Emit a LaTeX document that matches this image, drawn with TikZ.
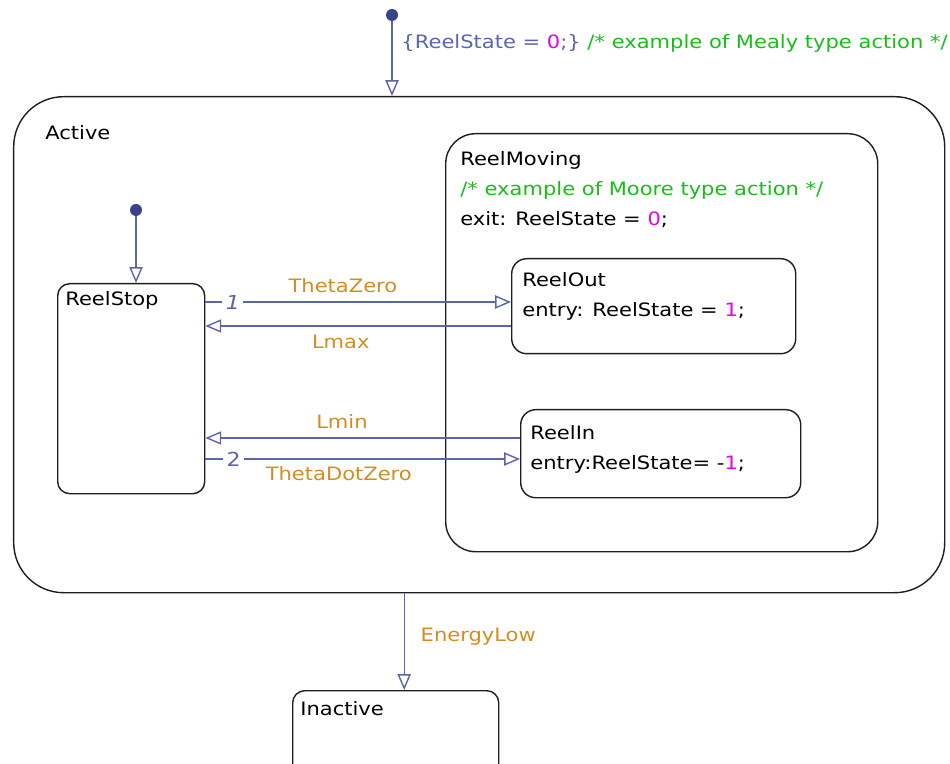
\documentclass[tikz,border=0pt]{standalone}
\usepackage{fontspec}
\setmainfont[FakeStretch=1.14]{DejaVu Sans}
\usetikzlibrary{positioning,calc,arrows.meta}
\definecolor{trblue}{RGB}{92,100,176}
\definecolor{dotblue}{RGB}{58,66,140}
\definecolor{lblorange}{RGB}{212,140,32}
\definecolor{cmtgreen}{RGB}{24,190,24}
\definecolor{valmag}{RGB}{230,0,230}
\definecolor{boxgray}{RGB}{30,30,30}

\begin{document}
\begin{tikzpicture}[
  state/.style={draw=boxgray, line width=0.8pt, anchor=north west, inner sep=0pt},
  txt/.style={anchor=north west, inner sep=0pt, align=left, font=\fontsize{10.5}{17}\selectfont},
  tr/.style={draw=trblue, line width=0.8pt, -{Triangle[open,length=9pt,width=7.5pt]}},
  lbl/.style={text=lblorange, inner sep=1pt, font=\fontsize{10.5}{17}\selectfont},
  num/.style={text=trblue, fill=white, inner sep=2pt, font=\fontsize{11}{13}\selectfont},
  init/.style={circle, fill=dotblue, inner sep=0pt, minimum size=0.24cm}]
\useasboundingbox (0,0) rectangle (19,-15.28);
\clip (0,0) rectangle (19,-15.28);

% states
\node[state, rounded corners=1cm, minimum width=18.62cm, minimum height=9.92cm] (act) at (0.26,-1.92) {};
\node[state, rounded corners=0.6cm, minimum width=8.64cm, minimum height=8.36cm] (mov) at (8.9,-2.66) {};
\node[state, rounded corners=0.24cm, minimum width=2.94cm, minimum height=4.2cm] (stop) at (1.14,-5.66) {};
\node[state, rounded corners=0.3cm, minimum width=5.68cm, minimum height=1.9cm] (out) at (10.22,-5.16) {};
\node[state, rounded corners=0.3cm, minimum width=5.6cm, minimum height=1.76cm] (in) at (10.4,-8.18) {};
\node[state, rounded corners=0.24cm, minimum width=4.12cm, minimum height=2.4cm] (inact) at (5.84,-13.8) {};

% state texts
\node[txt] (acttxt) at ($(act.north west)+(0.64,-0.58)$) {Active};
\node[txt] (movtxt) at ($(mov.north west)+(0.3,-0.36)$) {ReelMoving\\
  \textcolor{cmtgreen}{/* example of Moore type action */}\\
  exit: ReelState = \textcolor{valmag}{0};};
\node[txt] (stoptxt) at ($(stop.north west)+(0.16,-0.16)$) {ReelStop};
\node[txt] (outtxt) at ($(out.north west)+(0.22,-0.28)$) {ReelOut\\entry: ReelState = \textcolor{valmag}{1};};
\node[txt] (intxt) at ($(in.north west)+(0.2,-0.32)$) {ReelIn\\entry:ReelState= -\textcolor{valmag}{1};};
\node[txt] (inacttxt) at ($(inact.north west)+(0.16,-0.22)$) {Inactive};

% default transitions
\node[init] (dot1) at (7.84,-0.3) {};
\node[init] (dot2) at (2.72,-4.2) {};
\draw[tr] (dot1) -- (dot1 |- act.north)
  node[lbl, pos=0.3, right=4pt, font=\fontsize{10.5}{13}\selectfont]
  {\textcolor{trblue}{\{ReelState = }\textcolor{valmag}{0}\textcolor{trblue}{;\}}
   \textcolor{cmtgreen}{/* example of Mealy type action */}};
\draw[tr] (dot2) -- (dot2 |- stop.north);

% transitions
\draw[tr] (stop.east |- 0,-6.04) -- (out.west |- 0,-6.04)
  node[num, pos=0.09] {\textit{1}}
  node[lbl, pos=0.45, above=4pt] {ThetaZero};
\draw[tr] (out.west |- 0,-6.52) -- (stop.east |- 0,-6.52)
  node[lbl, pos=0.557, below=4pt] {Lmax};
\draw[tr] (in.west |- 0,-8.76) -- (stop.east |- 0,-8.76)
  node[lbl, pos=0.566, above=4pt] {Lmin};
\draw[tr] (stop.east |- 0,-9.18) -- (in.west |- 0,-9.18)
  node[num, pos=0.09] {2}
  node[lbl, pos=0.424, below=3pt] {ThetaDotZero};
\coordinate (etop) at ($(inact.north)+(0.17,0)$);
\draw[tr] (etop |- act.south) -- (etop)
  node[lbl, pos=0.45, right=8pt] {EnergyLow};
\end{tikzpicture}
\end{document}
